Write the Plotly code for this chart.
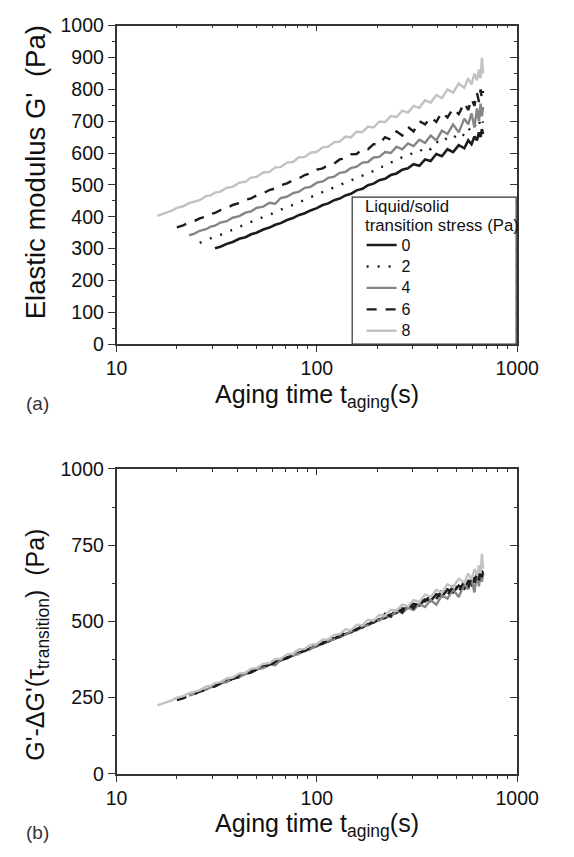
import plotly.graph_objects as go

# Aging time grid (s)
T = [16, 17, 18, 19, 20, 21.5, 23, 24.5, 26, 28, 29.5, 31, 33, 35.5, 38, 41, 44, 47, 50, 54,
     58, 62, 66, 71, 76, 81, 87, 93, 100, 107, 114, 122, 130, 139, 148, 158, 169, 180, 192, 205,
     219, 234, 250, 267, 285, 304, 325, 347, 370, 395, 421, 449, 479, 511, 545, 570, 592, 612, 630, 645,
     657, 667, 676]

# Elastic modulus G' (Pa) for each liquid/solid transition stress (series start at the tail of T)
G0 = [301, 306, 315, 321, 331, 336, 345, 350, 360, 366, 375, 380, 390, 396, 405, 411, 420, 427, 437, 442,
      452, 457, 467, 472, 483, 488, 499, 504, 515, 519, 531, 536, 548, 552, 565, 560, 580, 575, 597, 590,
      612, 603, 625, 615, 640, 628, 652, 640, 665, 650, 675, 660]
G2 = [318, 327, 331, 338, 343, 353, 359, 369, 375, 384, 389, 400, 406, 415, 421, 431, 437, 446, 452, 462,
      468, 478, 483, 493, 498, 509, 513, 524, 529, 540, 543, 556, 558, 571, 574, 588, 590, 603, 604, 620,
      612, 636, 630, 650, 645, 665, 655, 678, 668, 688, 680, 700, 688, 705, 695]
G4 = [342, 347, 356, 361, 369, 372, 382, 386, 397, 402, 413, 417, 428, 432, 444, 441, 459, 463, 474, 478,
      491, 494, 507, 511, 522, 526, 538, 541, 553, 557, 570, 572, 586, 588, 603, 600, 620, 612, 630, 622,
      642, 632, 655, 640, 670, 660, 690, 665, 708, 690, 725, 680, 740, 700, 755, 715, 745]
G6 = [367, 373, 382, 387, 395, 401, 409, 412, 421, 427, 437, 443, 453, 458, 467, 474, 484, 489, 499, 505,
      515, 520, 531, 536, 548, 552, 563, 567, 580, 583, 596, 597, 613, 612, 628, 627, 650, 642, 668, 655,
      682, 668, 700, 690, 712, 698, 728, 712, 740, 722, 758, 735, 770, 748, 790, 760, 800, 770, 795]
G8 = [403, 409, 417, 420, 428, 433, 443, 447, 452, 465, 467, 476, 479, 491, 494, 507, 510, 523, 525, 539,
      541, 555, 556, 570, 572, 586, 588, 601, 604, 618, 620, 634, 636, 652, 649, 667, 666, 683, 680, 699,
      697, 716, 713, 733, 727, 748, 742, 766, 758, 782, 772, 800, 790, 818, 805, 835, 815, 850, 828, 862,
      835, 900, 850]

STRESS = ["0", "2", "4", "6", "8"]
LEGEND_TITLE = ["Liquid/solid", "transition stress (Pa)"]
# Shift ΔG'(τ_transition) (Pa) used for panel (b)
DELTA = [8, 45, 85, 125, 178]

SERIES = [G0, G2, G4, G6, G8]
COLORS = ["#1c1c1c", "#1c1c1c", "#858585", "#1c1c1c", "#c2c2c2"]
DASHES = ["solid", "2px,9px", "solid", "10px,9px", "solid"]
WIDTHS = [2.6, 2.4, 2.4, 2.4, 2.4]

X_MAJOR = [10, 100, 1000]
X_MINOR = [20, 30, 40, 50, 60, 70, 80, 90, 200, 300, 400, 500, 600, 700, 800, 900]
Y_TOP_TICKS = list(range(0, 1001, 100))
Y_BOT_TICKS = [0, 250, 500, 750, 1000]

W, H = 574, 857
XD = [112 / W, 537 / W]
YD_TOP = [1 - 342 / H, 1 - 15 / H]
YD_BOT = [1 - 783 / H, 1 - 470 / H]

AX = "#333333"
FONT = "Arial, Liberation Sans, Helvetica, sans-serif"
TICKSIZE = 19.5

fig = go.Figure()

for i, (g, lab) in enumerate(zip(SERIES, STRESS)):
    x = T[len(T) - len(g):]
    fig.add_trace(go.Scatter(x=x, y=g, mode="lines",
                             name='<span style="font-size:16px">' + lab + "</span>",
                             line=dict(color=COLORS[i], width=WIDTHS[i], dash=DASHES[i]),
                             xaxis="x", yaxis="y", showlegend=True))
for i, g in enumerate(SERIES):
    x = T[len(T) - len(g):]
    fig.add_trace(go.Scatter(x=x, y=[v - DELTA[i] for v in g], mode="lines",
                             line=dict(color=COLORS[i], width=WIDTHS[i], dash=DASHES[i]),
                             xaxis="x3", yaxis="y3", showlegend=False))

# dummy traces so overlay (mirror) axes are drawn
fig.add_trace(go.Scatter(x=[None], y=[None], xaxis="x2", yaxis="y2", showlegend=False, hoverinfo="skip"))
fig.add_trace(go.Scatter(x=[None], y=[None], xaxis="x4", yaxis="y4", showlegend=False, hoverinfo="skip"))


def xax(anchor, side, ticks, labels, overlay=None):
    d = dict(type="log", range=[1, 3], autorange=False, domain=XD, anchor=anchor, side=side,
             tickvals=X_MAJOR, ticktext=[str(v) for v in X_MAJOR], ticks=ticks, ticklen=6,
             tickwidth=1.4, tickcolor=AX, showline=True, linecolor=AX, linewidth=1.6,
             showgrid=False, zeroline=False, showticklabels=labels,
             tickfont=dict(size=TICKSIZE, color="#111", family=FONT),
             minor=dict(tickvals=X_MINOR, ticks=ticks, ticklen=3, tickwidth=1.2, tickcolor=AX, showgrid=False))
    if overlay:
        d["overlaying"] = overlay
    return d


def yax(anchor, side, ticks, labels, domain, tickvals, minor_dtick, overlay=None):
    d = dict(range=[0, 1000], autorange=False, domain=domain, anchor=anchor, side=side,
             tickvals=tickvals, ticks=ticks, ticklen=7, tickwidth=1.4, tickcolor=AX,
             showline=True, linecolor=AX, linewidth=1.6, showgrid=False, zeroline=False,
             showticklabels=labels, tickfont=dict(size=TICKSIZE, color="#111", family=FONT),
             minor=dict(dtick=minor_dtick, tick0=0, ticks=ticks, ticklen=3, tickwidth=1.2,
                        tickcolor=AX, showgrid=False))
    if overlay:
        d["overlaying"] = overlay
    return d


annotations = [
    dict(text="Elastic modulus G'\u00a0\u00a0(Pa)", x=26 / W, y=1 - 166 / H, xref="paper", yref="paper",
         textangle=-90, showarrow=False, xanchor="center", yanchor="middle",
         font=dict(size=27.5, color="#111", family=FONT)),
    dict(text="Aging time t<sub>aging</sub>(s)", x=325 / W, y=1 - 395 / H, xref="paper", yref="paper",
         showarrow=False, xanchor="center", yanchor="middle",
         font=dict(size=25, color="#111", family=FONT)),
    dict(text="(a)", x=14 / W, y=1 - 403 / H, xref="paper", yref="paper", showarrow=False,
         xanchor="left", yanchor="middle", font=dict(size=19, color="#333", family=FONT)),
    dict(text="G'-ΔG'(τ<sub>transition</sub>)\u00a0\u00a0(Pa)", x=28 / W, y=1 - 650 / H,
         xref="paper", yref="paper",
         textangle=-90, showarrow=False, xanchor="center", yanchor="middle",
         font=dict(size=25, color="#111", family=FONT)),
    dict(text="Aging time t<sub>aging</sub>(s)", x=325 / W, y=1 - 835 / H, xref="paper", yref="paper",
         showarrow=False, xanchor="center", yanchor="middle",
         font=dict(size=25, color="#111", family=FONT)),
    dict(text="(b)", x=14 / W, y=1 - 843 / H, xref="paper", yref="paper", showarrow=False,
         xanchor="left", yanchor="middle", font=dict(size=19, color="#333", family=FONT)),
]
for k, line in enumerate(LEGEND_TITLE):
    annotations.append(dict(text=line, x=374 / W, y=1 - (201 + 19.5 * k) / H, xref="paper", yref="paper",
                            showarrow=False, xanchor="left", yanchor="middle",
                            font=dict(size=16.8, color="#111", family=FONT)))

fig.update_layout(
    width=W, height=H, autosize=False,
    margin=dict(l=0, r=0, t=0, b=0),
    paper_bgcolor="white", plot_bgcolor="white",
    font=dict(family=FONT, color="#111"),
    xaxis=xax("y", "bottom", "outside", True),
    xaxis2=xax("y", "top", "inside", False, overlay="x"),
    yaxis=yax("x", "left", "outside", True, YD_TOP, Y_TOP_TICKS, 50),
    yaxis2=yax("x", "right", "inside", False, YD_TOP, Y_TOP_TICKS, 50, overlay="y"),
    xaxis3=xax("y3", "bottom", "outside", True),
    xaxis4=xax("y3", "top", "inside", False, overlay="x3"),
    yaxis3=yax("x3", "left", "outside", True, YD_BOT, Y_BOT_TICKS, 125),
    yaxis4=yax("x3", "right", "inside", False, YD_BOT, Y_BOT_TICKS, 125, overlay="y3"),
    showlegend=True,
    legend=dict(x=372 / W, y=1 - 224 / H, xanchor="left", yanchor="top",
                borderwidth=0, bgcolor="rgba(0,0,0,0)",
                font=dict(size=14.2, color="#111", family=FONT),
                tracegroupgap=0, traceorder="normal"),
    shapes=[dict(type="rect", xref="paper", yref="paper", x0=362 / W, x1=536 / W,
                 y0=1 - 342 / H, y1=1 - 191 / H, line=dict(color=AX, width=1.2),
                 fillcolor="white", layer="above")],
    annotations=annotations,
)

fig.write_html("out.html")
